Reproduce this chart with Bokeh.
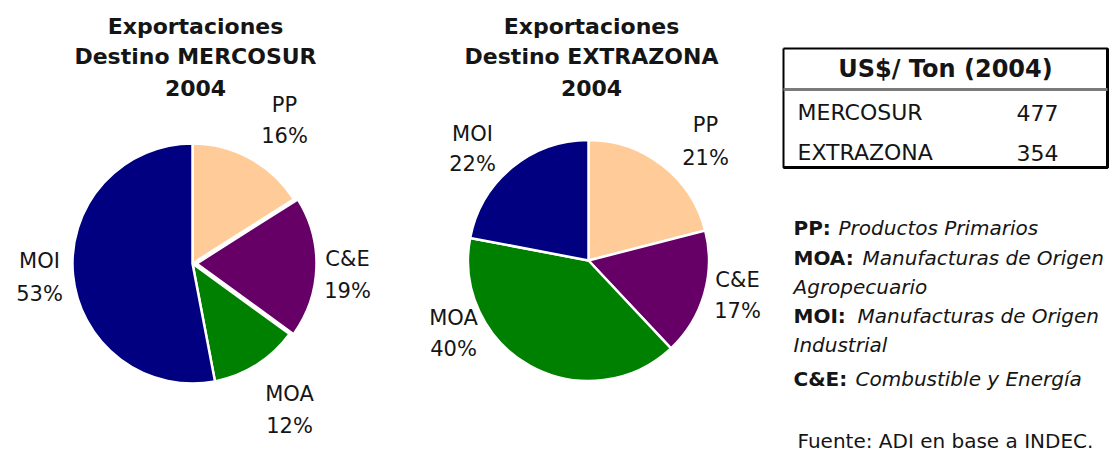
import numpy as np
from bokeh.plotting import figure
from bokeh.models import Range1d, ColumnDataSource
from bokeh.core.properties import value
from bokeh.embed import file_html
from bokeh.resources import INLINE

# ---------------- data ----------------
categories = ["PP", "C&E", "MOA", "MOI"]
mercosur_pct = [16, 19, 12, 53]
extrazona_pct = [21, 17, 40, 22]
slice_colors = ["#FFCC99", "#660066", "#008000", "#000080"]

title_mercosur = ["Exportaciones", "Destino MERCOSUR", "2004"]
title_extrazona = ["Exportaciones", "Destino EXTRAZONA", "2004"]

table_header = "US$/ Ton (2004)"
table_rows = ["MERCOSUR", "EXTRAZONA"]
table_values = [477, 354]

legend_abbr = ["PP:", "MOA:", "MOI:", "C&E:"]
legend_desc = [["Productos Primarios"],
               ["Manufacturas de Origen", "Agropecuario"],
               ["Manufacturas de Origen", "Industrial"],
               ["Combustible y Energía"]]
source_note = "Fuente: ADI en base a INDEC."

# ---------------- layout (reference pixel coordinates) ----------------
W, H = 1115, 454
def Y(ry):
    return H - ry

FONT = value("DejaVu Sans")
TXT = "#151515"

p = figure(width=W, height=H, x_range=Range1d(0, W), y_range=Range1d(0, H),
           output_backend="svg", toolbar_location=None, min_border=0)
p.axis.visible = False
p.grid.visible = False
p.outline_line_color = None
p.background_fill_color = "white"
p.border_fill_color = "white"

def draw_pie(cx, cy, r, pct, explode, label_pos):
    frac = np.array(pct, dtype=float) / np.sum(pct)
    cum_after = np.cumsum(frac)
    cum_before = cum_after - frac
    start = np.pi / 2 - 2 * np.pi * cum_after
    end = np.pi / 2 - 2 * np.pi * cum_before
    mid = (start + end) / 2
    xs = [cx + e * np.cos(m) for e, m in zip(explode, mid)]
    ys = [Y(cy) + e * np.sin(m) for e, m in zip(explode, mid)]
    src = ColumnDataSource(dict(x=xs, y=ys, start=start, end=end, color=slice_colors))
    p.wedge(x="x", y="y", radius=r, start_angle="start", end_angle="end",
            direction="anticlock", fill_color="color", line_color="white",
            line_width=2.5, source=src)
    for cat, v in zip(categories, pct):
        lx, ly1, ly2 = label_pos[cat]
        p.text(x=[lx, lx], y=[Y(ly1), Y(ly2)], text=[cat, f"{v}%"],
               text_font=FONT, text_font_size="21px", text_align="center",
               text_baseline="middle", text_color=TXT)

def draw_title(cx, lines):
    ys = [26, 56, 87]
    p.text(x=[cx] * 3, y=[Y(v) for v in ys], text=lines, text_font=FONT,
           text_font_size="22px", text_font_style="bold", text_align="center",
           text_baseline="middle", text_color=TXT)

draw_title(195, title_mercosur)
draw_title(591, title_extrazona)

draw_pie(192, 263, 120, mercosur_pct, [0, 4, 0, 0],
         {"PP": (284, 104, 135), "C&E": (347, 258, 290),
          "MOA": (289, 393, 425), "MOI": (39, 260, 293)})
draw_pie(588, 260, 120.5, extrazona_pct, [0, 0, 0, 0],
         {"PP": (705, 124, 157), "C&E": (737, 279, 310),
          "MOA": (453, 317, 348), "MOI": (472, 133, 163)})

# ---------------- table ----------------
tl, tr, tt, tb = 783, 1107, 48, 167
p.line(x=[tl, tr, tr, tl, tl], y=[Y(tt), Y(tt), Y(tb), Y(tb), Y(tt)],
       line_color="black", line_width=2)
p.line(x=[tr, tr, tl], y=[Y(tt), Y(tb), Y(tb)], line_color="black", line_width=3)
p.line(x=[tl, tr], y=[Y(89), Y(89)], line_color="#7a7a7a", line_width=3)
p.text(x=[945], y=[Y(68)], text=[table_header], text_font=FONT,
       text_font_size="24px", text_font_style="bold", text_align="center",
       text_baseline="middle", text_color=TXT)
p.text(x=[797, 797], y=[Y(112), Y(152)], text=table_rows, text_font=FONT,
       text_font_size="22px", text_align="left", text_baseline="middle",
       text_color=TXT)
p.text(x=[1058, 1058], y=[Y(112), Y(152)], text=[str(v) for v in table_values],
       text_font=FONT, text_font_size="22px", text_align="right",
       text_baseline="middle", text_color=TXT)

# ---------------- legend ----------------
abbr_y = [227, 257, 315, 378]
desc_x = [838, 862, 857, 855]
p.text(x=[793] * 4, y=[Y(v) for v in abbr_y], text=legend_abbr, text_font=FONT,
       text_font_size="20px", text_font_style="bold", text_align="left",
       text_baseline="middle", text_color=TXT)
for ay, dx, desc in zip(abbr_y, desc_x, legend_desc):
    p.text(x=[dx], y=[Y(ay)], text=[desc[0]], text_font=FONT,
           text_font_size="20px", text_font_style="italic", text_align="left",
           text_baseline="middle", text_color=TXT)
    if len(desc) > 1:
        p.text(x=[793], y=[Y(ay + 29)], text=[desc[1]], text_font=FONT,
               text_font_size="20px", text_font_style="italic", text_align="left",
               text_baseline="middle", text_color=TXT)

p.text(x=[797], y=[Y(440)], text=[source_note], text_font=FONT,
       text_font_size="20px", text_align="left", text_baseline="middle",
       text_color=TXT)

open("out.html", "w").write(file_html(p, INLINE))
